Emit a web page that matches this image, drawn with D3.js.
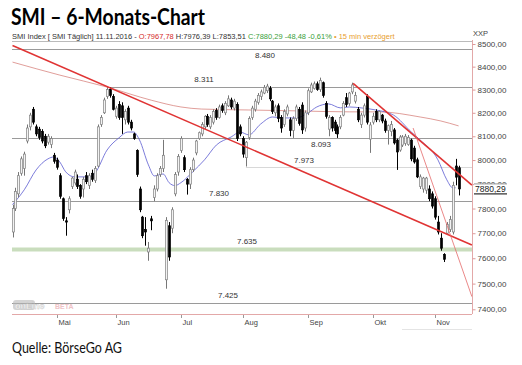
<!DOCTYPE html>
<html><head><meta charset="utf-8">
<script src="https://cdn.jsdelivr.net/npm/d3@7"></script>
<style>body{margin:0;background:#fff}svg{display:block}</style>
</head><body>
<svg id="c" width="522" height="365"></svg>
<script>
// ---------- DATA ----------
const open  = [7705,7800,7860,7945,7965,8080,8140,8215,8140,8130,8120,8100,8075,8065,8020,
 8000,7935,7840,7750,7795,7890,7905,7920,7895,7880,7935,7895,7945,7915,7975,8150,8200,8270,8300,8270,
 8185,8235,8230,8170,8220,8160,8110,8040,7880,7765,7715,7625,7758,7845,7880,7940,7965,7515,7730,7720,7860,7950,
 8040,8010,7920,7900,7960,8030,8090,8110,8140,8185,8140,8160,8210,8180,8230,8200,8230,8255,8220,8235,8140,
 8090,8010,8095,8180,8215,8245,8270,8285,8295,8305,8250,8200,8230,8180,8150,8195,8170,8125,8175,8215,8233,8135,
 8200,8290,8305,8325,8300,8330,8240,8130,8180,8160,8140,8140,8190,8265,8240,8290,8250,8215,8150,8190,8270,8088,
 8160,8205,8170,8190,8165,8125,8120,8127,8084,8042,8063,8070,8065,8084,8050,8001,7890,7880,7875,7880,7860,
 7840,7745,7680,7615,7700,7715,7705,7975,7967.78];
const high  = [7816,7885,7950,8015,8035,8150,8200,8225,8150,8140,8130,8110,8110,8100,8030,
 8010,7945,7845,7765,7850,7930,7960,7940,7900,7930,7950,7945,7960,7975,8150,8190,8265,8311,8311,8280,
 8230,8250,8245,8215,8230,8170,8115,8045,7890,7770,7765,7665,7770,7895,7945,7975,8085,7765,7745,7805,7950,8025,
 8100,8020,7925,7970,8010,8085,8120,8160,8190,8195,8190,8215,8220,8235,8240,8250,8275,8265,8260,8245,8150,
 8100,8080,8185,8230,8260,8285,8300,8320,8325,8315,8255,8235,8240,8190,8215,8235,8180,8185,8235,8225,8245,8210,
 8305,8330,8335,8335,8352,8335,8250,8190,8185,8170,8150,8190,8250,8285,8290,8330,8290,8225,8200,8240,8280,8160,
 8200,8215,8210,8195,8175,8150,8165,8135,8090,8105,8105,8110,8105,8090,8060,8010,7940,7930,7930,7895,7870,
 7850,7770,7700,7620,7745,7770,7910,8005,7976.39];
const low   = [7683,7790,7845,7935,7935,8070,8125,8150,8100,8085,8070,8050,8065,8050,7985,
 7960,7840,7750,7690,7780,7880,7895,7880,7840,7845,7900,7880,7910,7905,7970,8140,8195,8260,8265,8210,
 8175,8170,8110,8150,8150,8125,8085,7930,7785,7680,7650,7590,7712,7830,7870,7930,7950,7480,7590,7700,7850,7935,
 8030,7950,7857,7880,7950,8020,8085,8100,8130,8140,8130,8150,8170,8175,8200,8190,8225,8215,8210,8080,8100,
 8010,7973,8085,8170,8205,8235,8255,8280,8285,8250,8195,8185,8160,8115,8140,8185,8100,8093,8165,8145,8110,8120,
 8190,8285,8300,8295,8290,8265,8175,8100,8120,8110,8093,8130,8185,8225,8230,8280,8240,8160,8135,8180,8150,8030,
 8150,8160,8160,8155,8115,8065,8100,8065,7959,8035,8055,8060,8060,7995,7985,7925,7880,7865,7860,7830,7800,
 7755,7695,7630,7585,7695,7705,7695,7895,7853.51];
const close = [7800,7870,7935,8005,8025,8135,8190,8160,8110,8095,8080,8060,8100,8090,7995,
 7970,7850,7760,7745,7840,7925,7950,7890,7850,7920,7910,7935,7920,7965,8140,8180,8255,8300,8275,8215,
 8220,8180,8180,8205,8160,8135,8090,7940,7795,7690,7705,7640,7750,7880,7935,7965,8020,7752,7605,7795,7940,8015,
 8090,7960,7900,7960,8000,8080,8115,8150,8185,8150,8180,8205,8180,8225,8210,8240,8260,8225,8250,8090,8110,
 8025,8075,8175,8220,8250,8275,8290,8310,8315,8260,8205,8225,8175,8135,8205,8225,8125,8175,8225,8155,8127,8200,
 8295,8320,8325,8300,8340,8275,8185,8180,8135,8125,8110,8180,8240,8235,8285,8320,8275,8170,8190,8230,8160,8148,
 8185,8170,8205,8165,8125,8145,8150,8072,8034,8097,8097,8100,8095,8005,7992,7930,7930,7925,7925,7840,7810,
 7765,7705,7640,7596,7735,7755,7895,7929,7880.29];

const monthLabels = ["Mai","Jun","Jul","Aug","Sep","Okt","Nov"];
const monthStart  = [15,35,57,78,100,122,143];          // candle index of first trading day
const yTicks      = [7400,7500,7600,7700,7800,7900,8000,8100,8200,8300,8400,8500];
const levels      = [8480,8311,8093,7973,7830,7425];
const levelText   = ["8.480","8.311","8.093","7.973","7.830","7.425"];
const supportLevel = 7635, supportText = "7.635";
const lastClose   = 7880.29;
// moving averages: [candle index, value]
const fastMAIdx = [0,4,8,12,14,16,18,21,26,28,32,36,39,41,43,46,48,51,53,55,57,61,65,69,74,77,80,84,88,92,96,100,103,107,111,114,118,123,129,135,138,144,147,149,150];
const fastMAVal = [7816,7877,7959,8005,8013,7992,7951,7930,7930,7947,8042,8093,8118,8118,8084,7980,7934,7942,7906,7894,7906,7951,8001,8063,8097,8118,8106,8152,8182,8178,8178,8199,8225,8238,8221,8225,8221,8212,8190,8118,8084,8001,7918,7885,7885];
const slowMAIdx = [0,16,32,47,57,64,80,97,114,124,138,145,151];
const slowMAVal = [8420,8363,8311,8254,8225,8216,8212,8208,8204,8204,8182,8165,8144];
// trend lines: [[idx,value],[idx,value]]
const trendMain  = [[0,8493],[155.5,7653]];
const trendSep   = [[115.3,8327],[155.5,7896]];
const trendSteep = [[135.6,8135],[155.5,7449]];

// ---------- LAYOUT ----------
const svg = d3.select("#c");
svg.append("rect").attr("width",522).attr("height",365).attr("fill","#fff");
const L = 12, R = 472, T = 40, B = 314;
const x = d3.scaleLinear().domain([0,151]).range([12.5,458.6]);
const y = d3.scaleLog().domain([7400,8500]).range([309.3,44]);
const fmt = v => v.toFixed(2).replace(".",",");
const lab = "'Liberation Sans', Arial, sans-serif";

// title
svg.append("text").attr("x",11).attr("y",25)
  .attr("font-family","Lato, 'Open Sans', sans-serif").attr("font-weight","bold")
  .attr("font-size",22).attr("fill","#000")
  .attr("textLength",194).attr("lengthAdjust","spacingAndGlyphs")
  .text("SMI – 6-Monats-Chart");
// subtitle
const sub = svg.append("text").attr("x",12).attr("y",39).attr("font-family",lab).attr("font-size",7.5);
sub.append("tspan").attr("fill","#333").text("SMI Index [ SMI Täglich] 11.11.2016 - ");
sub.append("tspan").attr("fill","#d42a2a").text("O:7967,78 ");
sub.append("tspan").attr("fill","#333").text("H:7976,39 L:7853,51 ");
sub.append("tspan").attr("fill","#3aa03a").text("C:7880,29 -48,48 -0,61% ");
sub.append("tspan").attr("fill","#e8a030").text("• 15 min verzögert");

// top border
svg.append("line").attr("x1",L).attr("x2",R).attr("y1",T+1.5).attr("y2",T+1.5).attr("stroke","#bbb");

// levels
levels.forEach((v,k)=>{
  const yy = Math.round(y(v))+0.5;
  let x1 = L;
  if (v===8311) x1 = x(32);
  if (v===7973) x1 = x(79);
  svg.append("line").attr("x1",x1).attr("x2",R).attr("y1",yy).attr("y2",yy)
    .attr("stroke", v===7973 ? "#d8d8d8" : "#9a9a9a").attr("stroke-width",1);
});
svg.append("line").attr("x1",L).attr("x2",R).attr("y1",y(supportLevel)).attr("y2",y(supportLevel))
  .attr("stroke","#c9ddbd").attr("stroke-width",4);

const lblPos = {8480:[265,9],8311:[204,-5],8093:[321,9],7973:[304,-4],7830:[219,-5],7425:[228,-5]};
levels.forEach((v,k)=>{
  const p = lblPos[v];
  svg.append("text").attr("x",p[0]).attr("y",y(v)+p[1]).attr("text-anchor","middle")
    .attr("font-family",lab).attr("font-size",8).attr("fill","#333").text(levelText[k]);
});
svg.append("text").attr("x",247).attr("y",y(supportLevel)-5).attr("text-anchor","middle")
  .attr("font-family",lab).attr("font-size",8).attr("fill","#333").text(supportText);

// moving averages
const line = d3.line().x(d=>x(d[0])).y(d=>y(d[1])).curve(d3.curveMonotoneX);
svg.append("path").attr("d",line(slowMAIdx.map((d,k)=>[d,slowMAVal[k]])))
  .attr("fill","none").attr("stroke","#c8504a").attr("stroke-width",0.7).attr("stroke-opacity",0.8);
svg.append("path").attr("d",line(fastMAIdx.map((d,k)=>[d,fastMAVal[k]])))
  .attr("fill","none").attr("stroke","#5a5ad0").attr("stroke-width",0.8);

// candles
const cg = svg.append("g");
const idx = d3.range(close.length);
cg.selectAll("line.w").data(idx).join("line")
  .attr("x1",i=>Math.round(x(i))+0.5).attr("x2",i=>Math.round(x(i))+0.5)
  .attr("y1",i=>y(high[i])).attr("y2",i=>y(low[i]))
  .attr("stroke",i=>close[i]>=open[i]?"#777":"#000").attr("stroke-width",1);
cg.selectAll("rect").data(idx).join("rect")
  .attr("x",i=>Math.round(x(i))-0.5).attr("width",2)
  .attr("y",i=>y(Math.max(open[i],close[i])))
  .attr("height",i=>Math.max(1,Math.abs(y(open[i])-y(close[i]))))
  .attr("fill",i=>close[i]>=open[i]?"#f2f2f2":"#000")
  .attr("stroke",i=>close[i]>=open[i]?"#808080":"#000").attr("stroke-width",0.7);

// trend lines
const tl = (seg,w,c)=> svg.append("line").attr("x1",x(seg[0][0])).attr("y1",y(seg[0][1]))
  .attr("x2",x(seg[1][0])).attr("y2",y(seg[1][1])).attr("stroke",c).attr("stroke-width",w);
tl(trendMain,1.6,"#e03434");
tl(trendSep,1.6,"#e03434");
tl(trendSteep,0.8,"#e46a6a");

// watermark
const wm = svg.append("g").attr("opacity",0.6);
wm.append("rect").attr("x",13).attr("y",300).attr("width",22).attr("height",10).attr("rx",3)
  .attr("fill","#b8b8b8");
wm.append("text").attr("x",15).attr("y",309).attr("font-family",lab).attr("font-size",9)
  .attr("font-weight","bold").attr("fill","#fff").attr("stroke","#999").attr("stroke-width",0.4).text("onLine");
wm.append("text").attr("x",55).attr("y",309).attr("font-family",lab).attr("font-size",7)
  .attr("font-weight","bold").attr("fill","#e59aa0").text("BETA");

// axes
svg.append("line").attr("x1",L).attr("x2",R).attr("y1",B+0.5).attr("y2",B+0.5).attr("stroke","#e3a8a8");
svg.append("line").attr("x1",R+0.5).attr("x2",R+0.5).attr("y1",T).attr("y2",B).attr("stroke","#e3a8a8");
const axR = d3.axisRight(y).tickValues(yTicks).tickFormat(fmt).tickSize(3).tickPadding(2);
const ag = svg.append("g").attr("transform",`translate(${R+0.5},0)`).call(axR);
ag.select(".domain").remove();
ag.selectAll(".tick line").attr("stroke","#d99");
ag.selectAll(".tick text").attr("font-family",lab).attr("font-size",8).attr("fill","#444");
svg.append("text").attr("x",473).attr("y",36).attr("font-family",lab).attr("font-size",7.5).attr("fill","#444").text("XXP");

// last price box (covers the 7900 label as in the original)
const yl = y(lastClose);
svg.append("rect").attr("x",R+2).attr("y",yl-5).attr("width",33).attr("height",10).attr("fill","#fff");
svg.append("line").attr("x1",R+2).attr("x2",R+35).attr("y1",yl-5).attr("y2",yl-5).attr("stroke","#999");
svg.append("line").attr("x1",R+2).attr("x2",R+35).attr("y1",yl+5).attr("y2",yl+5).attr("stroke","#000");
svg.append("text").attr("x",R+3).attr("y",yl+3.5).attr("font-family",lab).attr("font-size",8.5).attr("fill","#222").text(fmt(lastClose));

// x axis months
const mg = svg.append("g");
monthStart.forEach((d,k)=>{
  const xx = Math.round(x(d))+0.5;
  mg.append("line").attr("x1",xx).attr("x2",xx).attr("y1",B+1).attr("y2",B+4).attr("stroke","#999");
  mg.append("text").attr("x",xx+1).attr("y",325).attr("font-family",lab).attr("font-size",7.5)
    .attr("fill","#444").text(monthLabels[k]);
});
svg.append("line").attr("x1",402).attr("x2",R).attr("y1",329.5).attr("y2",329.5).attr("stroke","#e4e4e4");

// footer
svg.append("text").attr("x",12).attr("y",353).attr("font-family","Lato, 'Open Sans', sans-serif")
  .attr("font-size",15).attr("fill","#111")
  .attr("textLength",110).attr("lengthAdjust","spacingAndGlyphs")
  .text("Quelle: BörseGo AG");
</script>
</body></html>
